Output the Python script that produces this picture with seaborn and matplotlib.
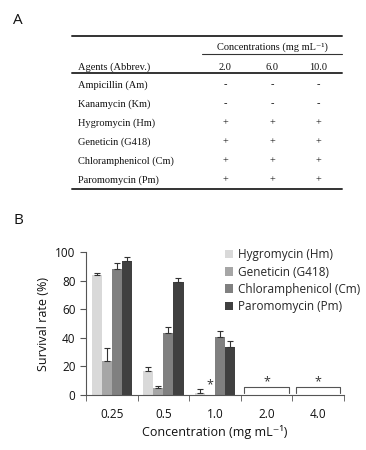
import matplotlib

matplotlib.use("Agg")
import matplotlib.pyplot as plt
from matplotlib.lines import Line2D
import numpy as np
import pandas as pd
import seaborn as sns

# ---- panel A table ----
TABLE_CONC = ["2.0", "6.0", "10.0"]
TABLE_AGENTS = [
    "Ampicillin (Am)",
    "Kanamycin (Km)",
    "Hygromycin (Hm)",
    "Geneticin (G418)",
    "Chloramphenicol (Cm)",
    "Paromomycin (Pm)",
]
TABLE_MARKS = ["-", "-", "+", "+", "+", "+"]

# ---- panel B bars ----
CONCS = ["0.25", "0.5", "1.0", "2.0", "4.0"]
AGENTS = ["Hygromycin (Hm)", "Geneticin (G418)", "Chloramphenicol (Cm)", "Paromomycin (Pm)"]
HM = [84.0, 16.5, 1.5, 0.0, 0.0]
G418 = [23.5, 5.0, 0.0, 0.0, 0.0]
CM = [88.0, 43.5, 40.5, 0.0, 0.0]
PM = [94.0, 79.0, 33.5, 0.0, 0.0]
HM_ERR = [1.2, 3.0, 2.5, 0, 0]
G418_ERR = [9.5, 1.5, 0, 0, 0]
CM_ERR = [4.5, 4.5, 4.5, 0, 0]
PM_ERR = [2.5, 3.0, 4.5, 0, 0]
COLORS = ["#d9d9d9", "#a6a6a6", "#808080", "#404040"]

SANS = ["Open Sans", "DejaVu Sans"]
SERIF = ["Liberation Serif", "DejaVu Serif"]
INK = "#111111"

sns.set_style("white")
plt.rcParams["font.family"] = SANS

fig = plt.figure(figsize=(3.66, 4.5), dpi=100)
W, H = 366.0, 450.0


def fx(px):
    return px / W


def fy(py):
    return 1 - py / H


# ---- panel A ----
fig.text(fx(18), fy(20), "A", fontsize=11, ha="center", va="center", color=INK)


def hline(x0, x1, y, lw):
    fig.add_artist(Line2D([fx(x0), fx(x1)], [fy(y), fy(y)], color="#333333", lw=lw,
                          transform=fig.transFigure))


hline(72, 342, 36, 1.4)
hline(202, 342, 54, 0.8)
hline(72, 342, 73, 1.4)
hline(72, 342, 189, 1.4)

tkw = dict(fontsize=7.5, family=SERIF, color=INK, va="center")
fig.text(fx(272), fy(47), "Concentrations (mg mL\u207b\u00b9)", ha="center", **tkw)
fig.text(fx(78), fy(67), "Agents (Abbrev.)", ha="left", **tkw)
col_x = [225, 272, 318]
for cx, c in zip(col_x, TABLE_CONC):
    fig.text(fx(cx), fy(67), c, ha="center", **tkw)
for i, (agent, mark) in enumerate(zip(TABLE_AGENTS, TABLE_MARKS)):
    ry = 85 + i * 19
    fig.text(fx(78), fy(ry), agent, ha="left", **tkw)
    for cx in col_x:
        fig.text(fx(cx), fy(ry), mark, ha="center", **tkw)

# ---- panel B ----
fig.text(fx(18), fy(220), "B", fontsize=11, ha="center", va="center", color=INK)

ax = fig.add_axes([fx(86), fy(395), fx(344) - fx(86), fy(252.3) - fy(395)])

series = [HM, G418, CM, PM]
errs = [HM_ERR, G418_ERR, CM_ERR, PM_ERR]
df = pd.DataFrame(
    [(c, a, v) for a, vals in zip(AGENTS, series) for c, v in zip(CONCS, vals)],
    columns=["conc", "agent", "rate"],
)
sns.barplot(data=df, x="conc", y="rate", hue="agent", order=CONCS, hue_order=AGENTS,
            palette=COLORS, width=0.78, gap=0, errorbar=None, saturation=1,
            edgecolor="none", ax=ax)

# one-sided error bars on top of each bar
for cont, err in zip(ax.containers, errs):
    for bar, e in zip(cont, err):
        if e <= 0:
            continue
        xc = bar.get_x() + bar.get_width() / 2
        h = bar.get_height()
        ax.errorbar(xc, h, yerr=[[0], [e]], fmt="none", ecolor="#333333",
                    elinewidth=0.8, capsize=2.5, capthick=0.8)

# significance marks
g_bar = ax.containers[1][2]
ax.text(g_bar.get_x() + g_bar.get_width() / 2, 7.5, "*", ha="center", va="center",
        fontsize=9, color="#333333")
for i in (3, 4):
    ax.plot([i - 0.43, i - 0.43, i + 0.43, i + 0.43], [1.5, 5.5, 5.5, 1.5],
            color="#555555", lw=0.8)
    ax.text(i, 9.5, "*", ha="center", va="center", fontsize=9, color="#333333")

ax.set_ylim(0, 100)
ax.set_xlim(-0.5, 4.5)
ax.set_yticks([0, 20, 40, 60, 80, 100])
ax.set_xticks(np.arange(-0.5, 5.0, 1.0), minor=True)
ax.tick_params(axis="x", which="major", length=0, pad=9, labelsize=8.5, colors=INK)
ax.tick_params(axis="x", which="minor", length=4, direction="out", color="#555555", bottom=True)
ax.tick_params(axis="y", length=4, direction="out", color="#555555", left=True,
               labelsize=8.5, colors=INK)
sns.despine(ax=ax)
for s in ("left", "bottom"):
    ax.spines[s].set_color("#555555")
    ax.spines[s].set_linewidth(0.8)
ax.set_ylabel("Survival rate (%)", fontsize=9, color=INK, labelpad=4)
ax.set_xlabel("Concentration (mg mL\u207b\u00b9)", fontsize=9, color=INK, labelpad=3)

ax.legend(frameon=False, loc="upper left", bbox_to_anchor=(0.52, 1.06), fontsize=8.5,
          handlelength=0.7, handleheight=0.7, handletextpad=0.4, labelspacing=0.35,
          borderaxespad=0)

fig.savefig("out.png", dpi=100)
